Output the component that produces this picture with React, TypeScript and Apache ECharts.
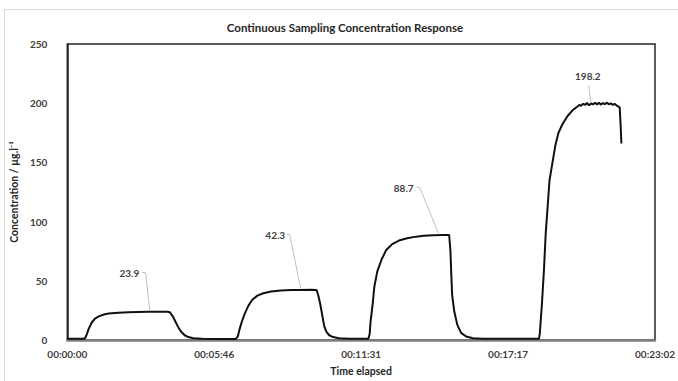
import React, { useEffect, useRef } from "react";
import * as echarts from "echarts";

// Elapsed time (seconds) and measured concentration (µg/l)
const timeSeconds = [
  0, 19, 37, 42, 46, 51, 58, 65, 74, 86, 97, 120, 144, 167, 190, 213, 236, 241, 248, 255,
  262, 269, 276, 285, 296, 317, 352, 396, 401, 405, 410, 417, 426, 435, 447, 461, 479, 502,
  526, 549, 572, 586, 590, 595, 600, 604, 609, 616, 625, 639, 664, 708, 711, 713, 718, 722,
  729, 739, 750, 764, 780, 799, 820, 838, 861, 884, 898, 901, 903, 905, 910, 917, 926, 938,
  954, 977, 1109, 1111, 1116, 1121, 1125, 1130, 1134, 1141, 1148, 1155, 1164, 1176, 1188,
  1199, 1204, 1208, 1213, 1218, 1222, 1227, 1232, 1236, 1241, 1246, 1250, 1255, 1259, 1264,
  1269, 1273, 1278, 1283, 1287, 1292, 1296, 1299, 1301, 1303,
];
const concentration = [
  1.0, 1.0, 1.0, 1.5, 5, 10, 15, 18, 20, 21.5, 22.3, 23.0, 23.4, 23.6, 23.8, 23.9, 23.9, 23.5, 20, 15,
  10, 6.5, 4, 2.5, 1.5, 1.0, 0.8, 0.8, 3, 9, 15, 22, 29, 34, 37.5, 39.5, 41, 41.8,
  42.2, 42.3, 42.5, 42.3, 38, 30, 20, 12, 7, 4, 2.5, 1.5, 1.0, 1.0, 5, 15, 30, 45,
  58, 68, 76, 81, 84, 86, 87.3, 88, 88.5, 88.7, 88.7, 75, 55, 38, 24, 13, 6, 3,
  1.5, 1.0, 1.0, 5, 30, 60, 90, 115, 135, 150, 165, 175, 182, 189, 194,
  197, 198.5, 197.8, 199.5, 198.6, 200.2, 198.2, 199.8, 198.9, 200.4, 199.0, 200.3, 198.8, 200.1, 199.2,
  200.5, 199.1, 199.9, 198.6, 199.4, 198.0, 197.2, 196.5, 183, 166,
];

// Plateau callout values
const calloutValues = [23.9, 42.3, 88.7, 198.2];

// Axis settings
const xMaxSeconds = 1382;
const xTickStep = 345.5;
const yMax = 250;
const yStep = 50;

const titleText = "Continuous Sampling Concentration Response";
const yAxisTitle = "Concentration / µg.l⁻¹";
const xAxisTitle = "Time elapsed";

function fmtTime(sec: number): string {
  const s = Math.round(sec);
  const h = Math.floor(s / 3600);
  const m = Math.floor((s % 3600) / 60);
  const ss = s % 60;
  const p = (n: number) => String(n).padStart(2, "0");
  return `${p(h)}:${p(m)}:${p(ss)}`;
}

export default function App() {
  const ref = useRef<HTMLDivElement>(null);

  useEffect(() => {
    if (!ref.current) return;
    const chart = echarts.init(ref.current, undefined, { renderer: "svg" });

    const font = "Lato, 'Open Sans', sans-serif";
    const data = timeSeconds.map((t, i) => [t, concentration[i]]);

    // label anchors (data coords) and leader polylines
    const labelAnchors = [
      [146, 57],
      [489, 88.7],
      [791, 128.6],
      [1224, 223],
    ];
    const leaders = [
      [[176, 56.8], [184, 56.8], [194, 25]],
      [[516, 89.3], [523, 89.3], [549, 43]],
      [[821, 129.4], [829, 128.6], [873, 90]],
      [[1226, 215], [1231, 201]],
    ];
    const leaderSegments: any[] = [];
    leaders.forEach((pts) => {
      for (let i = 0; i < pts.length - 1; i++) {
        leaderSegments.push([{ coord: pts[i] }, { coord: pts[i + 1] }]);
      }
    });

    chart.setOption({
      animation: false,
      backgroundColor: "#ffffff",
      graphic: [
        {
          type: "rect",
          shape: { x: 4.5, y: 9.5, width: 690, height: 400 },
          style: { fill: "none", stroke: "#d9d9d9", lineWidth: 1 },
          silent: true,
        },
        {
          type: "text",
          x: 345,
          y: 27,
          style: {
            text: titleText,
            fill: "#262626",
            font: `bold 11.5px ${font}`,
            textAlign: "center",
            textVerticalAlign: "middle",
          },
        },
      ],
      grid: {
        left: 58,
        right: 23,
        top: 44,
        bottom: 41,
        show: true,
        borderColor: "#262626",
        borderWidth: 1.5,
      },
      xAxis: {
        type: "value",
        min: 0,
        max: xMaxSeconds,
        interval: xTickStep,
        name: xAxisTitle,
        nameLocation: "middle",
        nameGap: 25,
        nameTextStyle: { fontFamily: font, fontWeight: "bold", fontSize: 10.5, color: "#262626" },
        axisLine: { show: true, lineStyle: { color: "#808080", width: 2.5 } },
        axisTick: { show: false },
        splitLine: { show: false },
        axisLabel: {
          formatter: (v: number) => fmtTime(v),
          fontFamily: font,
          fontWeight: "bold",
          fontSize: 10,
          color: "#404040",
          margin: 9,
        },
      },
      yAxis: {
        type: "value",
        min: 0,
        max: yMax,
        interval: yStep,
        name: yAxisTitle,
        nameLocation: "middle",
        nameGap: 30,
        nameTextStyle: { fontFamily: font, fontWeight: "bold", fontSize: 10.5, color: "#262626" },
        axisLine: { show: true, lineStyle: { color: "#262626", width: 1.5 } },
        axisTick: { show: false },
        splitLine: { show: false },
        axisLabel: {
          fontFamily: font,
          fontWeight: "bold",
          fontSize: 10,
          color: "#404040",
          margin: 20,
        },
      },
      series: [
        {
          type: "line",
          data,
          showSymbol: false,
          symbol: "none",
          lineStyle: { color: "#111111", width: 2 },
          z: 3,
          markLine: {
            silent: true,
            symbol: ["none", "none"],
            label: { show: false },
            lineStyle: { color: "#c0c0c0", width: 1, type: "solid" },
            data: leaderSegments,
          },
          markPoint: {
            silent: true,
            symbol: "rect",
            symbolSize: 1,
            itemStyle: { color: "rgba(0,0,0,0)" },
            label: {
              show: true,
              position: "inside",
              fontFamily: font,
              fontWeight: "bold",
              fontSize: 10,
              color: "#404040",
            },
            data: calloutValues.map((v, i) => ({
              coord: labelAnchors[i],
              value: v,
              label: { formatter: String(v) },
            })),
          },
        },
      ],
    });

    return () => chart.dispose();
  }, []);

  return (
    <div
      ref={ref}
      style={{ position: "fixed", left: 0, top: 0, width: 678, height: 381 }}
    />
  );
}
